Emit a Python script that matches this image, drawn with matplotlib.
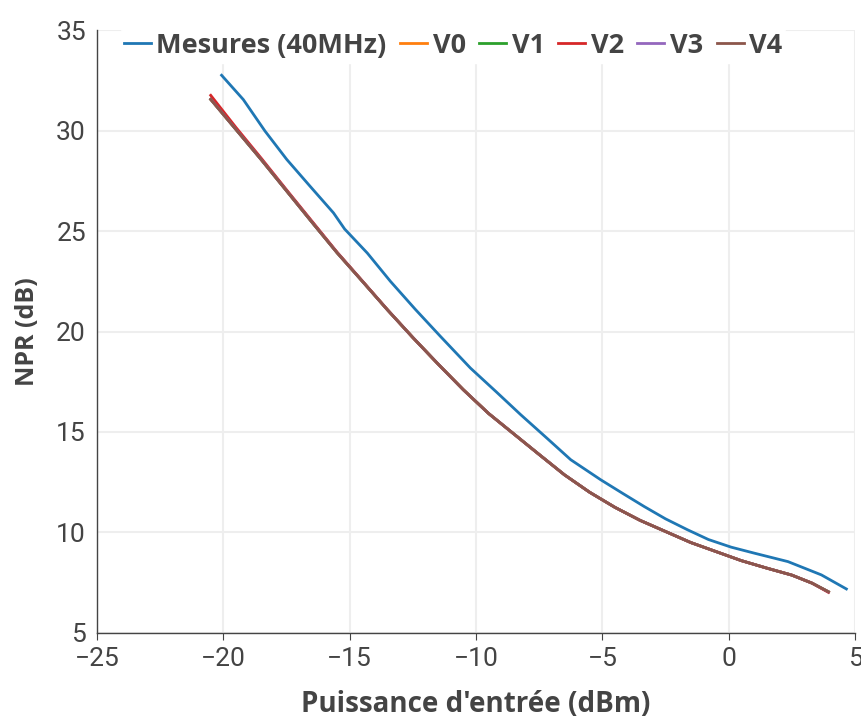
import matplotlib
matplotlib.use("Agg")
import matplotlib.pyplot as plt

# measured NPR (40 MHz)
mes_x = [-20.07, -19.21, -18.35, -17.49, -16.57, -15.64, -15.2, -14.3, -13.39, -12.4,
         -11.41, -10.22, -9.2, -8.23, -7.2, -6.25, -5.06, -4.2, -3.34, -2.5,
         -1.62, -0.8, 0.1, 1.02, 2.35, 3.67, 4.66]
mes_y = [32.75, 31.54, 29.97, 28.56, 27.23, 25.9, 25.1, 23.9, 22.5, 21.1,
         19.76, 18.18, 17.0, 15.86, 14.7, 13.62, 12.62, 11.95, 11.29, 10.68,
         10.13, 9.65, 9.27, 8.97, 8.55, 7.89, 7.19]

# model versions
mod_x = [-20.5, -19.5, -18.5, -17.5, -16.5, -15.5, -14.5, -13.5, -12.5, -11.5,
         -10.5, -9.5, -8.5, -7.5, -6.5, -5.5, -4.5, -3.5, -2.5, -1.5,
         -0.5, 0.5, 1.5, 2.5, 3.3, 3.95]
v0 = [31.55, 30.05, 28.55, 27.0, 25.45, 23.92, 22.5, 21.07, 19.7, 18.38,
      17.1, 15.92, 14.9, 13.88, 12.87, 12.0, 11.25, 10.6, 10.05, 9.5,
      9.05, 8.6, 8.23, 7.88, 7.48, 7.05]
v1 = [31.55, 30.05, 28.55, 27.0, 25.45, 23.92, 22.5, 21.07, 19.7, 18.38,
      17.1, 15.92, 14.9, 13.88, 12.87, 12.0, 11.25, 10.6, 10.05, 9.5,
      9.05, 8.6, 8.23, 7.88, 7.48, 7.05]
v2 = [31.75, 30.15, 28.62, 27.05, 25.5, 23.95, 22.52, 21.08, 19.7, 18.38,
      17.1, 15.92, 14.9, 13.88, 12.87, 12.0, 11.25, 10.6, 10.05, 9.5,
      9.05, 8.6, 8.23, 7.88, 7.48, 7.02]
v3 = [31.55, 30.05, 28.55, 27.0, 25.45, 23.92, 22.5, 21.07, 19.7, 18.38,
      17.1, 15.92, 14.9, 13.88, 12.87, 12.0, 11.25, 10.6, 10.05, 9.5,
      9.05, 8.6, 8.23, 7.88, 7.48, 7.05]
v4 = [31.55, 30.05, 28.55, 27.0, 25.45, 23.92, 22.5, 21.07, 19.7, 18.38,
      17.1, 15.92, 14.9, 13.88, 12.87, 12.0, 11.25, 10.6, 10.05, 9.5,
      9.05, 8.6, 8.23, 7.88, 7.48, 7.05]

names = ["V0", "V1", "V2", "V3", "V4"]
colors = ["#ff7f0e", "#2ca02c", "#d62728", "#9467bd", "#8c564b"]

txt = "#444444"
fig = plt.figure(figsize=(8.61, 7.22), dpi=100)
ax = fig.add_axes([0.1127, 0.1233, 0.8803, 0.8351])

ax.plot(mes_x, mes_y, color="#1f77b4", lw=2, label="Mesures (40MHz)")
for name, vals, c in zip(names, [v0, v1, v2, v3, v4], colors):
    ax.plot(mod_x, vals, color=c, lw=2, label=name)

ax.set_xlim(-25, 5)
ax.set_ylim(5, 35)
ax.set_xticks(range(-25, 6, 5))
ax.set_yticks(range(5, 36, 5))
ax.grid(True, color="#eeeeee", lw=1.5)
ax.set_axisbelow(True)
for s in ["top", "right"]:
    ax.spines[s].set_visible(False)
for s in ["left", "bottom"]:
    ax.spines[s].set_color(txt)
    ax.spines[s].set_linewidth(1)
ax.tick_params(axis="x", length=5, color=txt, labelcolor=txt, labelsize=19, pad=5)
ax.tick_params(axis="y", length=0, labelcolor=txt, labelsize=19, pad=8)
for lab in ax.get_xticklabels() + ax.get_yticklabels():
    lab.set_family("Roboto")

ax.set_xlabel("Puissance d'entrée (dBm)", fontsize=20, fontweight="bold",
              family="Open Sans", color=txt, labelpad=14)
ax.set_ylabel("NPR (dB)", fontsize=18, fontweight="bold",
              family="Open Sans", color=txt, labelpad=12)

leg = ax.legend(loc="upper left", bbox_to_anchor=(0.012, 1.025), ncol=6, frameon=True,
                facecolor="white", edgecolor="white", framealpha=1,
                handlelength=1.0, handletextpad=0.2, columnspacing=0.5,
                borderpad=0.15, prop={"family": "Open Sans", "weight": "bold", "size": 19.5})
for t in leg.get_texts():
    t.set_color(txt)

fig.savefig("out.png", dpi=100)
